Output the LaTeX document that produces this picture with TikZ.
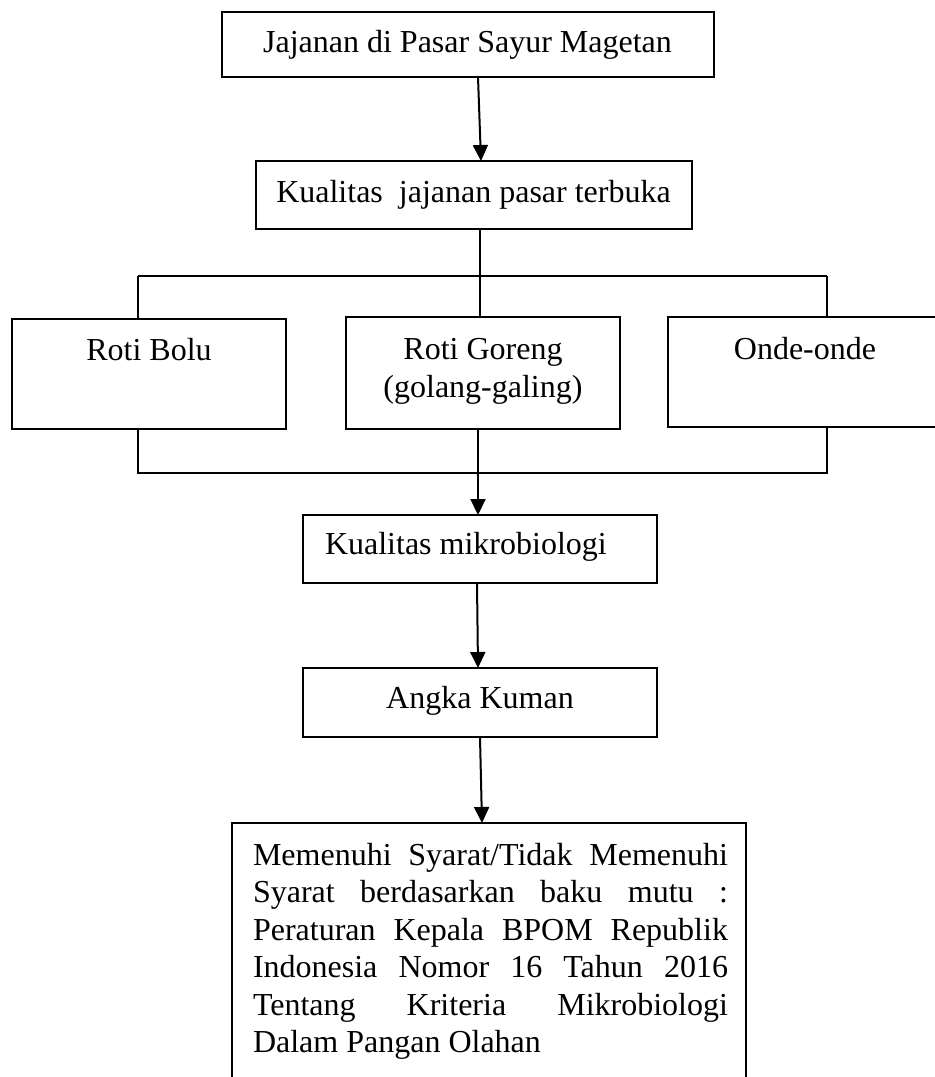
\documentclass[tikz,border=0pt]{standalone}
\usepackage{fontspec}
\setmainfont{Liberation Serif}
\usetikzlibrary{arrows.meta}
\begin{document}
\begin{tikzpicture}[x=1pt,y=-1pt,
  box/.style={draw, line width=1.4pt, inner sep=0pt, outer sep=0pt, anchor=north west},
  txt/.style={inner sep=0pt, outer sep=0pt, font=\fontsize{32}{37.5}\selectfont},
  link/.style={line width=1.5pt},
  arr/.style={line width=2pt, -{Triangle[width=15pt,length=16pt]}}]
\useasboundingbox (0,0) rectangle (935,1077);
% boxes
\node[box, minimum width=492pt, minimum height=65pt] (b1) at (222,12) {};
\node[box, minimum width=436pt, minimum height=68pt] (b2) at (256,161) {};
\node[box, minimum width=274pt, minimum height=110pt] (bolu) at (12,319) {};
\node[box, minimum width=274pt, minimum height=112pt] (goreng) at (346,317) {};
\node[box, minimum width=274pt, minimum height=110pt] (onde) at (668,317) {};
\node[box, minimum width=354pt, minimum height=68pt] (mikro) at (303,515) {};
\node[box, minimum width=354pt, minimum height=69pt] (angka) at (303,668) {};
\node[box, minimum width=514pt, minimum height=280pt] (big) at (232,823) {};
% texts
\node[txt, anchor=base] (t1) at (467.5,52) {Jajanan di Pasar Sayur Magetan};
\node[txt, anchor=base] (t2) at (473.5,202) {Kualitas\ \ jajanan pasar terbuka};
\node[txt, anchor=base] (tbolu) at (149,360) {Roti Bolu};
\node[txt, anchor=base] (tgoreng1) at (483,359) {Roti Goreng};
\node[txt, anchor=base] (tgoreng2) at (483,397) {(golang-galing)};
\node[txt, anchor=base] (tonde) at (805,359) {Onde-onde};
\node[txt, anchor=base west] (tmikro) at (325,554) {Kualitas mikrobiologi};
\node[txt, anchor=base] (tangka) at (480,708) {Angka Kuman};
\node[txt, anchor=base west, text width=475pt, align=justify] (tbig) at (253,865)
  {\hyphenpenalty=10000 Memenuhi Syarat/Tidak Memenuhi\linebreak
   Syarat berdasarkan baku mutu :\linebreak
   Peraturan Kepala BPOM Republik\linebreak
   Indonesia Nomor 16 Tahun 2016\linebreak
   Tentang Kriteria Mikrobiologi\linebreak
   Dalam Pangan Olahan};
% junctions
\coordinate (j1) at (480,276);
\coordinate (jl) at (138,276);
\coordinate (jr) at (827,276);
\coordinate (kl) at (138,473);
\coordinate (kr) at (827,473);
% connectors
\draw[arr] (b1.south -| 478,0) -- (b2.north -| 481,0);
\draw[link] (b2.south -| j1) -- (j1);
\draw[link] (jl) -- (jr);
\draw[link] (jl) -- (jl |- bolu.north);
\draw[link] (j1) -- (j1 |- goreng.north);
\draw[link] (jr) -- (jr |- onde.north);
\draw[link] (kl |- bolu.south) -- (kl) -- (kr) -- (kr |- onde.south);
\draw[arr] (goreng.south -| 478,0) -- (mikro.north -| 478,0);
\draw[arr] (mikro.south -| 477,0) -- (angka.north -| 478,0);
\draw[arr] (angka.south -| 480,0) -- (big.north -| 482,0);
\end{tikzpicture}
\end{document}
